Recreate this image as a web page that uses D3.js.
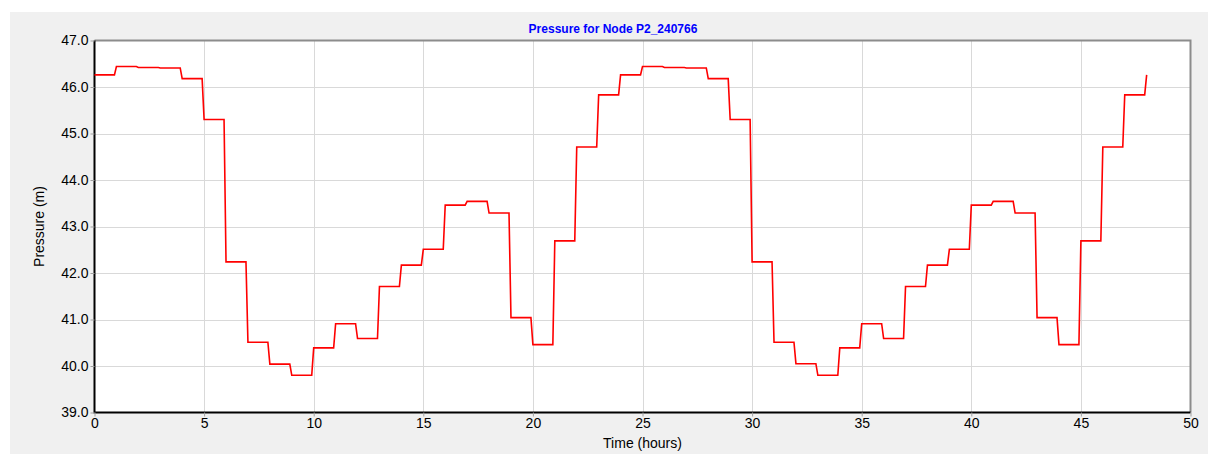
<!DOCTYPE html>
<html><head><meta charset="utf-8">
<script src="https://cdn.jsdelivr.net/npm/d3@7"></script>
<style>
html,body{margin:0;padding:0;background:#fff;}
svg{display:block;font-family:"Liberation Sans",Arial,sans-serif;}
</style></head>
<body>
<svg id="chart" width="1208" height="454"></svg>
<script>
const title = "Pressure for Node P2_240766";
const xLabel = "Time (hours)";
const yLabel = "Pressure (m)";
const hours = [0,1,2,3,4,5,6,7,8,9,10,11,12,13,14,15,16,17,18,19,20,21,22,23,24,
  25,26,27,28,29,30,31,32,33,34,35,36,37,38,39,40,41,42,43,44,45,46,47,48];
const pressure = [46.26,46.44,46.42,46.41,46.18,45.30,42.24,40.51,40.04,39.80,40.39,40.91,40.59,41.71,42.17,42.51,43.46,43.54,43.29,41.04,40.46,42.69,44.71,45.83,
  46.26,46.44,46.42,46.41,46.18,45.30,42.24,40.51,40.05,39.80,40.39,40.91,40.59,41.71,42.17,42.51,43.46,43.54,43.29,41.04,40.46,42.69,44.71,45.83,46.26];
const xTicks = [0,5,10,15,20,25,30,35,40,45,50];
const yTicks = [39,40,41,42,43,44,45,46,47];
const stepLag = 0.09;

const svg = d3.select("#chart");
svg.append("rect").attr("x",10).attr("y",12).attr("width",1198).attr("height",442).attr("fill","#f0f0f0");

const L = 94.5, R = 1190.5, T = 40.5, B = 412.5;
const x = d3.scaleLinear().domain([0,50]).range([L,R]);
const y = d3.scaleLinear().domain([39,47]).range([B,T]);

svg.append("rect").attr("x",L).attr("y",T).attr("width",R-L).attr("height",B-T).attr("fill","#fff");

// grid
svg.append("g").selectAll("line").data(xTicks.slice(1,-1)).join("line")
  .attr("x1",d=>Math.round(x(d))+0.5).attr("x2",d=>Math.round(x(d))+0.5).attr("y1",T).attr("y2",B)
  .attr("stroke","#d9d9d9").attr("stroke-width",1);
svg.append("g").selectAll("line").data(yTicks.slice(1,-1)).join("line")
  .attr("x1",L).attr("x2",R).attr("y1",d=>Math.round(y(d))+0.5).attr("y2",d=>Math.round(y(d))+0.5)
  .attr("stroke","#d9d9d9").attr("stroke-width",1);

// frame
svg.append("path").attr("d",`M${L},${T}H${R}V${B}`).attr("fill","none").attr("stroke","#8c8c8c").attr("stroke-width",2);
svg.append("path").attr("d",`M${L},${T}V${B}H${R}`).attr("fill","none").attr("stroke","#000").attr("stroke-width",2);

// axes
const xAxis = d3.axisBottom(x).tickValues(xTicks).tickFormat(d3.format("d")).tickSize(4).tickPadding(2);
const gx = svg.append("g").attr("transform",`translate(0,${B})`).call(xAxis);
gx.select(".domain").remove();
gx.selectAll(".tick line").attr("stroke","#a0a0a0");
gx.selectAll("text").attr("font-size",14).attr("fill","#000").attr("font-family","Liberation Sans, Arial, sans-serif");

const yAxis = d3.axisLeft(y).tickValues(yTicks).tickFormat(d3.format(".1f")).tickSize(4).tickPadding(2);
const gy = svg.append("g").attr("transform",`translate(${L},0)`).call(yAxis);
gy.select(".domain").remove();
gy.selectAll(".tick line").attr("stroke","#a0a0a0");
gy.selectAll("text").attr("font-size",14).attr("fill","#000").attr("font-family","Liberation Sans, Arial, sans-serif");

// series with short ramps at each hourly step
const pts = [];
hours.forEach((h,i)=>{
  if(i>0) pts.push([h-stepLag, pressure[i-1]]);
  pts.push([h, pressure[i]]);
});
const line = d3.line().x(d=>x(d[0])).y(d=>y(d[1]));
svg.append("path").datum(pts).attr("d",line).attr("fill","none").attr("stroke","#ff0000").attr("stroke-width",1.6);

// titles
svg.append("text").attr("x",613).attr("y",33).attr("text-anchor","middle")
  .attr("font-size",12).attr("font-weight","bold").attr("fill","#0000ff").text(title);
svg.append("text").attr("x",(L+R)/2).attr("y",448).attr("text-anchor","middle")
  .attr("font-size",14).attr("fill","#000").text(xLabel);
svg.append("text").attr("transform",`translate(44,${(T+B)/2}) rotate(-90)`).attr("text-anchor","middle")
  .attr("font-size",14).attr("fill","#000").text(yLabel);
</script>
</body></html>
